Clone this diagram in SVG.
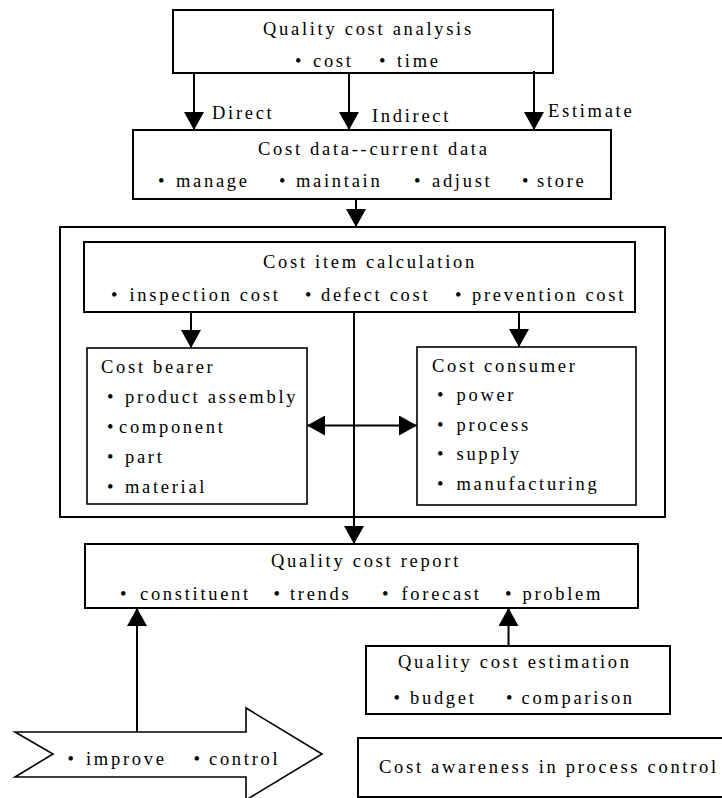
<svg xmlns="http://www.w3.org/2000/svg" width="722" height="798" viewBox="0 0 722 798">
<style>
text{font-family:"Liberation Serif","Times New Roman",serif;font-size:18.5px;letter-spacing:2.7px;fill:#000}
.box{fill:#fff;stroke:#000;stroke-width:2}
.thin{fill:#fff;stroke:#000;stroke-width:1.6}
.ln{stroke:#000;stroke-width:2;fill:none}
</style>
<defs>
<marker id="ah" markerUnits="userSpaceOnUse" markerWidth="20" markerHeight="20" viewBox="0 0 18 20" refX="18" refY="10" orient="auto-start-reverse">
<path d="M0,0 L18,10 L0,20 z" fill="#000"/>
</marker>
</defs>
<rect x="0" y="0" width="722" height="798" fill="#fff"/>

<g id="container"><rect class="box" x="60" y="227" width="605" height="290"/></g>

<g id="analysis">
<rect class="box" x="173" y="10" width="380" height="63"/>
<text x="263" y="35">Quality cost analysis</text>
<text y="66.5"><tspan x="295">•</tspan><tspan x="313">cost</tspan><tspan x="379">•</tspan><tspan x="397">time</tspan></text>
</g>

<g id="costdata">
<rect class="box" x="133" y="130" width="478" height="69"/>
<text x="258" y="155">Cost data--current data</text>
<text y="187"><tspan x="158">•</tspan><tspan x="176">manage</tspan><tspan x="279">•</tspan><tspan x="296">maintain</tspan><tspan x="414">•</tspan><tspan x="432">adjust</tspan><tspan x="522">•</tspan><tspan x="537">store</tspan></text>
</g>

<g id="calc">
<rect class="box" x="84" y="242" width="551" height="70"/>
<text x="263" y="268">Cost item calculation</text>
<text y="301"><tspan x="111">•</tspan><tspan x="129.5">inspection cost</tspan><tspan x="305">•</tspan><tspan x="321">defect cost</tspan><tspan x="455">•</tspan><tspan x="472">prevention cost</tspan></text>
</g>

<g id="bearer">
<rect class="thin" x="87" y="348" width="220" height="156"/>
<text x="101" y="373">Cost bearer</text>
<text y="403"><tspan x="107">•</tspan><tspan x="125">product assembly</tspan></text>
<text y="433"><tspan x="107">•</tspan><tspan x="119">component</tspan></text>
<text y="463"><tspan x="107">•</tspan><tspan x="125">part</tspan></text>
<text y="493"><tspan x="107">•</tspan><tspan x="125">material</tspan></text>
</g>

<g id="consumer">
<rect class="thin" x="417" y="347" width="219" height="158"/>
<text x="432" y="372">Cost consumer</text>
<text y="401"><tspan x="437">•</tspan><tspan x="456.5">power</tspan></text>
<text y="431"><tspan x="437">•</tspan><tspan x="456.5">process</tspan></text>
<text y="460"><tspan x="437">•</tspan><tspan x="456.5">supply</tspan></text>
<text y="490"><tspan x="437">•</tspan><tspan x="456.5">manufacturing</tspan></text>
</g>

<g id="report">
<rect class="box" x="85" y="544" width="553" height="64"/>
<text x="271" y="567">Quality cost report</text>
<text y="599.5"><tspan x="120">•</tspan><tspan x="140">constituent</tspan><tspan x="273.5">•</tspan><tspan x="290">trends</tspan><tspan x="382">•</tspan><tspan x="401.5">forecast</tspan><tspan x="505">•</tspan><tspan x="522.5">problem</tspan></text>
</g>

<g id="estimation">
<rect class="box" x="366" y="646" width="304" height="68"/>
<text x="398" y="668">Quality cost estimation</text>
<text y="704"><tspan x="393.5">•</tspan><tspan x="410">budget</tspan><tspan x="506">•</tspan><tspan x="521.5">comparison</tspan></text>
</g>

<g id="improve">
<polygon class="thin" points="15,732 246,732 246,708 322,754 246,800 246,777 15,777 53,754"/>
<text y="765"><tspan x="67.5">•</tspan><tspan x="86">improve</tspan><tspan x="193.5">•</tspan><tspan x="209">control</tspan></text>
</g>

<g id="awareness">
<rect class="box" x="358" y="738" width="370" height="59"/>
<text x="379" y="773">Cost awareness in process control</text>
</g>

<g id="connectors">
<line class="ln" x1="194" y1="73" x2="194" y2="130" marker-end="url(#ah)"/>
<line class="ln" x1="349" y1="73" x2="349" y2="130" marker-end="url(#ah)"/>
<line class="ln" x1="534" y1="71" x2="534" y2="130" marker-end="url(#ah)"/>
<line class="ln" x1="356" y1="199" x2="356" y2="227" marker-end="url(#ah)"/>
<line class="ln" x1="191" y1="312" x2="191" y2="348" marker-end="url(#ah)"/>
<line class="ln" x1="519" y1="311" x2="519" y2="347" marker-end="url(#ah)"/>
<line class="ln" x1="307" y1="425.5" x2="417" y2="425.5" marker-start="url(#ah)" marker-end="url(#ah)"/>
<line class="ln" x1="354" y1="311" x2="354" y2="544" marker-end="url(#ah)"/>
<line class="ln" x1="137" y1="732" x2="137" y2="608" marker-end="url(#ah)"/>
<line class="ln" x1="508.5" y1="646" x2="508.5" y2="608" marker-end="url(#ah)"/>
<text x="212" y="119">Direct</text>
<text x="372" y="121.5">Indirect</text>
<text x="548" y="117">Estimate</text>
</g>
</svg>
